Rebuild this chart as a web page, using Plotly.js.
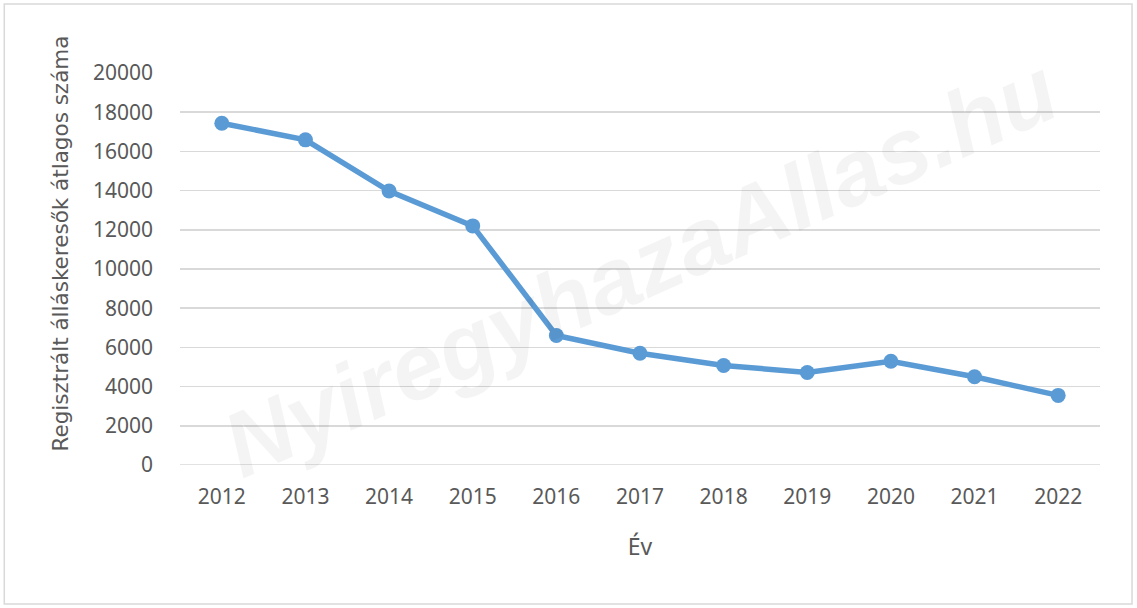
<!DOCTYPE html>
<html>
<head>
<meta charset="utf-8">
<script src="https://cdn.plot.ly/plotly-3.0.1.min.js"></script>
<style>html,body{margin:0;padding:0;background:#fff;}#chart{width:1137px;height:608px;}</style>
</head>
<body>
<div id="chart"></div>
<script>
const years = ["2012","2013","2014","2015","2016","2017","2018","2019","2020","2021","2022"];
const jobseekers = [17440, 16590, 13980, 12200, 6610, 5700, 5080, 4720, 5290, 4500, 3550];
const yTicks = [0,2000,4000,6000,8000,10000,12000,14000,16000,18000,20000];
const yTitle = 'Regisztrált álláskeresők átlagos száma';
const xTitle = 'Év';
const watermark = 'NyiregyhazaAllas.hu';

const trace = {
  x: years,
  y: jobseekers,
  type: 'scatter',
  mode: 'lines+markers',
  line: {color: '#5b9bd5', width: 5.5},
  marker: {color: '#5b9bd5', size: 15},
  hoverinfo: 'x+y'
};

const fam = '"Noto Sans", sans-serif';

const layout = {
  width: 1137, height: 608,
  margin: {l: 180, r: 37, t: 73, b: 143},
  paper_bgcolor: '#ffffff', plot_bgcolor: '#ffffff',
  showlegend: false,
  xaxis: {
    type: 'category',
    range: [-0.5, 10.5],
    showgrid: false, zeroline: false, showline: false,
    ticks: '',
    tickfont: {family: fam, color: '#595959', size: 21},
    ticklabelstandoff: 17,
    title: {text: xTitle, font: {family: fam, color: '#595959', size: 23}, standoff: 29}
  },
  yaxis: {
    range: [0, 20000],
    tickvals: yTicks,
    ticktext: yTicks.map(String),
    showgrid: true, gridcolor: '#d9d9d9', gridwidth: 1.5,
    zeroline: false, showline: false, ticks: '',
    tickfont: {family: fam, color: '#595959', size: 21},
    ticklabelstandoff: 26
  },
  shapes: [
    {type: 'line', xref: 'paper', yref: 'y', x0: 0, x1: 1, y0: 0, y1: 0, line: {color: '#d9d9d9', width: 1.5}, layer: 'below'},
    {type: 'rect', xref: 'paper', yref: 'paper', x0: -0.191, x1: 1.0348, y0: -0.3546, y1: 1.176, line: {color: '#d9d9d9', width: 1.5}, fillcolor: 'rgba(0,0,0,0)', layer: 'below'}
  ],
  annotations: [
    {text: '<b><i>' + watermark + '</i></b>', xref: 'paper', yref: 'paper', x: 0.5, y: 0.505, showarrow: false,
     textangle: -24, font: {family: 'Liberation Sans, Arial, sans-serif', size: 92, color: 'rgba(0,0,0,0.045)'}},
    {text: yTitle, xref: 'paper', yref: 'paper', x: -0.1304, y: 0.565, xanchor: 'center', yanchor: 'middle',
     showarrow: false, textangle: -90, font: {family: '"DejaVu Sans", sans-serif', color: '#595959', size: 21.5}}
  ]
};

Plotly.newPlot('chart', [trace], layout, {displayModeBar: false, staticPlot: true});
</script>
</body>
</html>
